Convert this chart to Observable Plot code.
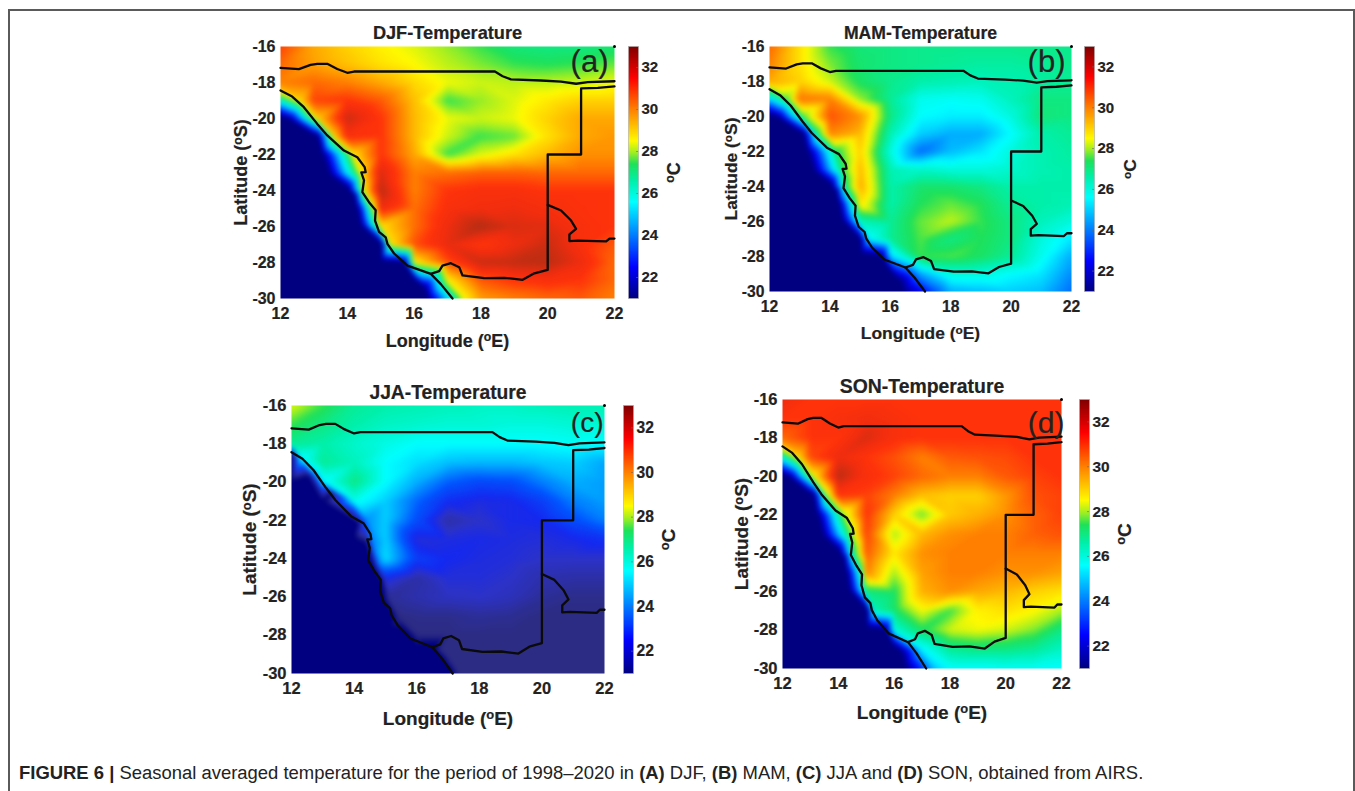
<!DOCTYPE html>
<html><head><meta charset="utf-8">
<script src="https://cdn.jsdelivr.net/npm/d3@7"></script>
<script src="https://cdn.jsdelivr.net/npm/@observablehq/plot@0.6"></script>
<style>
html,body{margin:0;padding:0;background:#fff;width:1355px;height:791px;overflow:hidden;font-family:"Liberation Sans",Arial,sans-serif}
#page{position:relative;width:1355px;height:791px}
#page svg{position:absolute;overflow:visible;background:transparent}
#page svg text{stroke:#222;stroke-width:.2px}
.rule{position:absolute;background:#5a5a5a}
#cap{position:absolute;left:19px;top:762px;font-size:18.45px;color:#222;white-space:nowrap}
</style></head><body><div id="page"></div>
<script>
const S = 20, E = 20.8, __ = null; // S: sea; E: edge of the navy area; __: no grid sample, coast sample used instead
const lons = [12,13,14,15,16,17,18,19,20,21,22];
const lats = [-16,-17,-18,-19,-20,-21,-22,-23,-24,-25,-26,-27,-28,-29,-30];
const xTicks = [12,14,16,18,20,22];
const yTicks = [-16,-18,-20,-22,-24,-26,-28,-30];
const cbTicks = [22,24,26,28,30,32];

const djfRows = [
[30.8,29.5,29,28.6,28.3,27.9,27.5,27.1,27,27,27.2],
[30.3,29.6,29.2,28.8,28.5,28.1,27.8,27.5,27.4,27.5,27.7],
[30,30.3,30,29.5,28.9,28.4,28.2,28.1,28.1,28.2,28.4],
[__,30.8,31,30.5,29.2,27.5,27.9,28.3,28.7,29,29],
[S,__,32,31,29.3,28.4,28.2,28.4,29,29.5,29.5],
[S,S,31.2,31,29.3,28.2,27.5,27.7,28.8,29.5,29.7],
[S,S,__,31,29.5,27.5,28.3,28.8,29.3,29.8,29.8],
[S,S,__,31.8,30,30.2,30.4,30.4,30.3,30.3,30.3],
[S,S,S,32.2,30,31,31.2,31.2,31,31,31],
[S,S,S,31.5,30.2,31.2,31.4,31.5,31.3,31.1,31],
[S,S,S,__,30.2,31.5,32.3,31.8,31.7,31.2,31],
[S,S,S,S,30.6,31.6,31,31.5,32,31.2,30.5],
[S,S,S,S,__,30.6,32,32.1,32.2,31.5,30.3],
[S,S,S,S,S,__,30.5,31,31.2,31,30.3],
[S,S,S,S,S,__,29.6,30,30.3,30.5,30]];
const mamRows = [
[30.3,28.8,27.5,27.1,27,26.9,26.9,26.9,26.9,26.9,26.9],
[30,28.8,27.8,27.2,27,26.9,26.8,26.7,26.7,26.8,26.9],
[29.5,29,28.2,27.3,26.9,26.6,26.5,26.4,26.5,26.7,26.8],
[__,30.2,30,27.9,26.8,25.8,25.7,25.8,26.4,27,27],
[S,__,30.6,29.8,27,25.6,25.4,25.4,26,27.1,27],
[S,S,29.9,29.3,26.5,25,24.6,24.6,25.6,26.6,26.8],
[S,S,__,29,26,23.8,24.8,25.3,26,26.5,26.7],
[S,S,__,29.3,26.5,26.2,26,26,26.2,26.5,26.6],
[S,S,S,29.5,26.6,27.2,27.2,27,26.6,26.6,26.6],
[S,S,S,28.8,26.6,27.4,27.7,27.4,26.8,26.6,26.5],
[S,S,S,__,26.8,27.7,28.1,27.5,27,26.4,26],
[S,S,S,S,26.8,27.6,27,27.4,27,26,25.3],
[S,S,S,S,__,27.5,27.6,27.3,26.8,25.8,24.6],
[S,S,S,S,S,__,26,26,25.6,25.3,24.2],
[S,S,S,S,S,__,24.6,24.8,25,24.8,23.8]];
const jjaRows = [
[28.3,27.5,26.8,26.6,26.5,26.4,26.3,26.3,26.4,26.5,26.5],
[27.5,27,26.6,26.3,26.2,26.1,26.1,26,26,26.1,26.1],
[26.8,26.6,26.2,25.9,25.6,25.6,25.6,25.6,25.6,25.7,25.6],
[__,26.8,26.4,25.6,25.2,24.8,24.7,24.7,24.9,25,24.5],
[S,25.5,27,25.6,24.6,23.6,23.2,23.3,24,24.6,24.4],
[S,S,25.8,25,23.7,22.6,22.3,22.4,23,24,24.4],
[S,S,S,25,23.3,21.5,22,22.4,22.5,23.3,24],
[S,S,S,25,22.2,22.3,22.4,22.3,22.2,22.4,22.7],
[S,S,S,25.2,23,22.5,22.3,22.2,22,22,22],
[S,S,S,__,21.5,22.2,22.2,22,21.6,21.5,21.5],
[S,S,S,__,21.6,21.9,22,21.8,21.3,21.1,21.1],
[S,S,S,S,21.1,21.1,21.3,21.2,21,21,21],
[S,S,S,S,__,21,21,21,21,21,21],
[S,S,S,S,S,__,21,21,21,21,21],
[S,S,S,S,S,S,21,21,21,21,21]];
const sonRows = [
[31.5,31,31,31,31,31,31,31,31,31,31],
[31,31,31.2,31.4,31.2,31,31,31,31,31,31],
[30.3,31,31,31.8,31.2,31,31,31,31,31,31],
[__,30.7,31.5,31,30.6,30,30.5,30.6,30.7,31,31],
[S,__,32.2,31.2,30.8,30.3,30,30,30.5,30.8,31],
[S,S,31,30.8,30,29.2,29,29,29.7,30.6,30.8],
[S,S,__,31,29,27.7,29.1,29.4,29.8,30.4,30.8],
[S,S,__,30.8,28,29.3,29.8,30,30,30.4,30.6],
[S,S,S,30.5,28.7,29.8,30,30,30,30,30],
[S,S,S,30,28,29.6,30,30,29.8,29.8,29.6],
[S,S,S,__,27.3,29.4,29.8,29.5,29.3,29,28.8],
[S,S,S,S,27.2,28.4,27.5,28.6,28.8,28.5,28],
[S,S,S,S,__,27.3,28.2,28.4,28.2,27.8,27],
[S,S,S,S,S,__,26.8,27,27,26.8,26.3],
[S,S,S,S,S,__,25.6,25.6,25.7,25.7,25.6]];

// Edge of the navy (sea) area, and the first land samples behind the coast
const navyEdgeLon = [12,12.3,13.1,13.25,13.45,14.2,14.3,14.4,15,15.7,16.3,16.4];
const navyEdgeLat = [-19.9,-20.1,-20.9,-22,-23.1,-24.2,-25,-25.9,-27,-28,-29.4,-30];
const stripLon = [12,12.6,13.1,13.6,14.2,14.4,14.5,14.8,15,15.3,16,17,17.5];
const stripLat = [-18.5,-19,-20,-21,-22,-23,-24,-25,-26,-27,-28,-29,-30];
const djfStrip = [29,29,29,29,28.8,28.6,28.6,28.6,28.8,28.8,28.6,28.6,28.5];
const mamStrip = [27.5,27.6,27.5,27,27.2,27.3,27,26.8,26.4,25.6,25,24.5,23.5];
const sonStrip = [29,29,28.5,28,28,27.5,26.5,26.5,27,26.5,26,25.5,25];
const jjaEdgeLon = [12,12.55,13.25,14.15,14.45,14.6,14.85,14.95,15.2,15.8,16.5,16.8,17.15];
const jjaEdgeLat = [-18.5,-19.7,-20.6,-22.1,-23.4,-24.3,-25.1,-26.3,-27,-28.2,-28.7,-29.2,-30];
const jjaStripLon = [12.3,12.8,13.5,14.4,14.6,14.8,15,15.1,15.4,16,16.7,17,17.3];
const jjaStripLat = [-18.8,-19.6,-20.5,-22,-23.4,-24.3,-25,-26,-27,-28,-28.7,-29.2,-30];
const jjaStrip = [25.5,25,25.5,24.2,24,24,22.5,21.3,21,21,21,21,21];

// Boundaries
const coast = [[12,-18.44],[12.35,-18.78],[12.7,-19.37],[13.1,-20.3],[13.4,-20.94],[13.9,-21.78],[14.3,-22.15],[14.52,-22.7],[14.55,-22.98],[14.42,-23],[14.5,-23.44],[14.45,-24.09],[14.65,-24.65],[14.85,-25.1],[14.83,-25.67],[14.95,-26.3],[15.15,-26.6],[15.2,-26.96],[15.4,-27.5],[15.8,-28.17],[16.5,-28.63],[16.8,-29.2],[17.15,-30]];
const northBorder = [[12,-17.19],[12.55,-17.26],[12.9,-17.02],[13.1,-16.96],[13.4,-16.96],[13.7,-17.25],[14,-17.46],[14.2,-17.39],[18.42,-17.39],[18.65,-17.65],[18.9,-17.83],[19.8,-17.89],[20.4,-17.95],[20.85,-18.07],[21.2,-17.98],[22,-17.93]];
const eastBorder = [[22,-18.22],[21.5,-18.3],[21,-18.33],[21,-22],[20,-22],[20,-28.41],[19.6,-28.6],[19.25,-28.96],[18.7,-28.85],[18.1,-28.87],[17.45,-28.72],[17.35,-28.26],[17.1,-28.04],[16.85,-28.17],[16.75,-28.48],[16.5,-28.63]];
const southBorder = [[20,-24.8],[20.4,-25.11],[20.7,-25.67],[20.85,-26.13],[20.65,-26.44],[20.65,-26.81],[20.9,-26.78],[21.75,-26.83],[21.85,-26.67],[22,-26.67]];
const cornerDot = [[22,-16]];

// Colour ramps
const jetV = [21,22.5,25.6,26.6,27.4,28,28.5,30,31.5,33];
const jetC = ["rgb(0,0,128)","rgb(0,0,255)","rgb(0,255,255)","rgb(0,240,170)","rgb(30,225,90)","rgb(170,240,30)","rgb(255,250,0)","rgb(255,128,0)","rgb(255,0,0)","rgb(128,0,0)"];
const fieldV = [20,21,22.5,25.6,26.6,27.4,28,28.5,30,31,31.5,32.5,33];
const fieldC = ["rgb(0,0,128)","rgb(0,0,128)","rgb(0,0,255)","rgb(0,255,255)","rgb(0,240,170)","rgb(30,225,90)","rgb(170,240,30)","rgb(255,250,0)","rgb(255,128,0)","rgb(255,50,10)","rgb(240,45,15)","rgb(165,45,20)","rgb(120,30,10)"];
const winterV = [20,20.4,21,22,22.5,23.5,25.6,26.6,27.4,28,28.5,30];
const winterC = ["rgb(0,0,128)","rgb(0,0,128)","rgb(44,44,132)","rgb(44,50,200)","rgb(20,40,240)","rgb(0,85,255)","rgb(0,255,255)","rgb(0,240,170)","rgb(30,225,90)","rgb(170,240,30)","rgb(255,250,0)","rgb(255,128,0)"];

const panels = [
 {title:"DJF-Temperature",tag:"(a)",rows:djfRows,strip:djfStrip,box:[280,614,46,298],bar:[628,638],tagSize:31,tagDx:-6,tagDy:3,titleSize:18.2,labelSize:18,tickSize:16,barTick:15,xOff:48,yOff:46,cOff:41},
 {title:"MAM-Temperature",tag:"(b)",rows:mamRows,strip:mamStrip,box:[769,1071,46,291],bar:[1084,1094],tagSize:31,tagDx:-6,tagDy:3,titleSize:17.6,labelSize:17.4,tickSize:15.7,barTick:15,xOff:47,yOff:45,cOff:41},
 {title:"JJA-Temperature",tag:"(c)",rows:jjaRows,strip:jjaStrip,box:[291,604,405,673],bar:[623,633],tagSize:28,tagDx:-1,tagDy:7,titleSize:19.3,labelSize:19,tickSize:16.5,barTick:15.6,xOff:51,yOff:49,cOff:41,jja:true},
 {title:"SON-Temperature",tag:"(d)",rows:sonRows,strip:sonStrip,box:[782,1061,399,668],bar:[1079,1089],tagSize:30,tagDx:3,tagDy:12,titleSize:19.4,labelSize:19,tickSize:16.5,barTick:15.4,xOff:50,yOff:48,cOff:41}
];

const fieldScale = d3.scaleLinear().domain(fieldV).range(fieldC).clamp(true);
const winterScale = d3.scaleLinear().domain(winterV).range(winterC).clamp(true);
const jetScale = d3.scaleLinear().domain(jetV).range(jetC).clamp(true);
const page = document.getElementById("page");
const font = {fontFamily:'"Liberation Sans",Arial,sans-serif',fontWeight:"bold",fontSize:"16px",color:"#222",background:"transparent"};

function samples(p){
  const pts = [];
  p.rows.forEach((r,i)=>r.forEach((t,j)=>{ if(t!==null) pts.push({lon:lons[j],lat:lats[i],t}); }));
  const eLon = p.jja?jjaEdgeLon:navyEdgeLon, eLat = p.jja?jjaEdgeLat:navyEdgeLat;
  eLon.forEach((lon,i)=>pts.push({lon,lat:eLat[i],t:p.jja?S:E}));
  const sLon = p.jja?jjaStripLon:stripLon, sLat = p.jja?jjaStripLat:stripLat;
  sLon.forEach((lon,i)=>pts.push({lon,lat:sLat[i],t:p.strip[i]}));
  return pts;
}
function raiseO(svg,size){
  d3.select(svg).selectAll("text").each(function(){
    const el = d3.select(this);
    let host = el, s = el.text();
    const m = s.match(/^(.*\()?o([CES])(\)?)$/);
    if(!m) return;
    const ts = el.selectAll("tspan");
    if(ts.size()) host = d3.select(ts.node());
    el.attr("font-size",size);
    const lead = m[1]||"", tail = m[2]+m[3];
    host.text(null);
    host.append("tspan").text(lead);
    host.append("tspan").attr("dy","-0.42em").attr("font-size","0.68em").text("o");
    host.append("tspan").attr("dy","0.29em").text(tail);
  });
}
function place(svg,l,t){ svg.style.left=l+"px"; svg.style.top=t+"px"; page.appendChild(svg); }
const lineOpts = {x:d=>d[0],y:d=>d[1],stroke:"#0a0a0a",strokeWidth:2.3};

for(const p of panels){
  const [x0,x1,y0,y1] = p.box;
  const mL=60,mR=12,mT=30,mB=60;
  const ramp = p.jja?winterScale:fieldScale;
  const map = Plot.plot({
    width:x1-x0+mL+mR,height:y1-y0+mT+mB,marginLeft:mL,marginRight:mR,marginTop:mT,marginBottom:mB,
    style:font,
    x:{domain:[12,22]},y:{domain:[-30,-16]},
    color:{type:"linear",domain:[20,33],interpolate:t=>ramp(20+13*t),clamp:true},
    marks:[
      Plot.raster(samples(p),{x:"lon",y:"lat",fill:"t",interpolate:"barycentric",pixelSize:1,blur:2}),
      Plot.line(coast,lineOpts),
      Plot.line(northBorder,lineOpts),
      Plot.line(eastBorder,lineOpts),
      Plot.line(southBorder,lineOpts),
      Plot.dot(cornerDot,{x:d=>d[0],y:d=>d[1],r:1.5,fill:"#000"}),
      Plot.axisX({ticks:xTicks,tickFormat:d=>String(d),tickSize:0,tickPadding:9,label:"Longitude (oE)",labelAnchor:"center",labelArrow:"none",labelOffset:p.xOff,fontSize:p.tickSize}),
      Plot.axisY({ticks:yTicks,tickFormat:d=>String(d),tickSize:0,tickPadding:5,label:"Latitude (oS)",labelAnchor:"center",labelArrow:"none",labelOffset:p.yOff,fontSize:p.tickSize}),
      Plot.text([p.title],{frameAnchor:"top",dy:-20,fontSize:p.titleSize,fontWeight:"bold",fill:"#222"}),
      Plot.text([p.tag],{frameAnchor:"top-right",dx:p.tagDx,dy:p.tagDy,fontSize:p.tagSize,fontWeight:"normal",fill:"#222"})
    ]
  });
  raiseO(map,p.labelSize);
  place(map,x0-mL,y0-mT);

  const [b0,b1] = p.bar;
  const bmR=50,bmV=10;
  const bar = Plot.plot({
    width:b1-b0+bmR,height:y1-y0+2*bmV,marginLeft:0,marginRight:bmR,marginTop:bmV,marginBottom:bmV,
    style:font,
    x:{domain:[0,1],axis:null},y:{domain:[21,33]},
    color:{type:"linear",domain:[21,33],interpolate:t=>jetScale(21+12*t)},
    marks:[
      Plot.raster({x1:0,x2:1,y1:21,y2:33,width:1,height:256,fill:(x,y)=>y,imageRendering:"auto"}),
      Plot.ruleY(cbTicks,{x1:0.8,x2:1,stroke:"#666",strokeWidth:0.6}),
      Plot.frame({stroke:"#aaa",strokeWidth:0.6}),
      Plot.axisY({anchor:"right",ticks:cbTicks,tickSize:0,tickPadding:3,label:"oC",labelAnchor:"center",labelArrow:"none",labelOffset:p.cOff,fontSize:p.barTick})
    ]
  });
  raiseO(bar,p.labelSize);
  place(bar,b0,y0-bmV);
}

for(const r of [[8,9,1347,1.5],[8,9,1.5,782],[1353,9,1.5,782]]){
  const d=document.createElement("div");d.className="rule";
  d.style.cssText=`left:${r[0]}px;top:${r[1]}px;width:${r[2]}px;height:${r[3]}px`;
  page.appendChild(d);
}
const cap=document.createElement("div");cap.id="cap";
cap.innerHTML='<b>FIGURE 6 |</b> Seasonal averaged temperature for the period of 1998–2020 in <b>(A)</b> DJF, <b>(B)</b> MAM, <b>(C)</b> JJA and <b>(D)</b> SON, obtained from AIRS.';
page.appendChild(cap);
</script></body></html>
